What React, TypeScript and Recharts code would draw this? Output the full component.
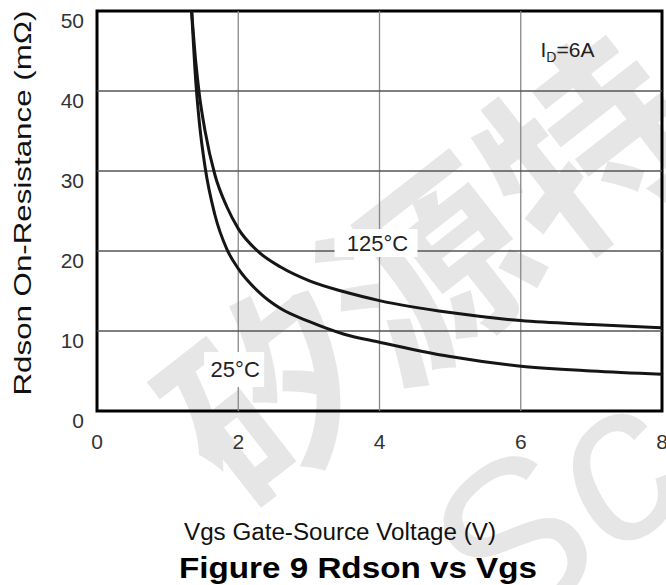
import React from "react";
import {
  LineChart,
  Line,
  XAxis,
  YAxis,
  ReferenceLine,
  ReferenceArea,
  ReferenceDot,
} from "recharts";

// Vgs (V) sample points shared by both curves
const vgs = [1.34, 1.4, 1.45, 1.53, 1.67, 1.84, 2.0, 2.3, 2.6, 3.0, 3.5, 4.0, 5.0, 6.0, 7.0, 8.0];
// Rdson (mOhm)
const rdson25 = [50, 41, 36, 30.5, 24.5, 20.2, 17.8, 14.8, 12.8, 11.2, 9.6, 8.6, 6.8, 5.6, 5.0, 4.6];
const rdson125 = [50, 43.5, 39.5, 35, 29.5, 25.5, 22.8, 19.8, 18.0, 16.3, 14.9, 13.8, 12.3, 11.3, 10.8, 10.4];

const xTicks = [0, 2, 4, 6, 8];
const yTicks = [0, 10, 20, 30, 40, 50];
const xGrid = [2, 4, 6];
const yGrid = [10, 20, 30, 40];

const data = vgs.map((v, i) => ({ vgs: v, t25: rdson25[i], t125: rdson125[i] }));

const FONT = "'Liberation Sans', Arial, sans-serif";

const XTick = (props: any) => {
  const { x, y, payload } = props;
  return (
    <text x={x} y={y + 38} textAnchor="middle" fontSize={21} fill="#333" fontFamily={FONT}>
      {payload.value}
    </text>
  );
};

const YTick = (props: any) => {
  const { x, y, payload } = props;
  return (
    <text x={x - 13} y={y + 16.5} textAnchor="end" fontSize={21} fill="#333" fontFamily={FONT}>
      {payload.value}
    </text>
  );
};

const label125 = (props: any) => {
  const { cx, cy } = props;
  return (
    <g>
      <rect x={cx - 45} y={cy - 22} width={83} height={28} fill="#fff" />
      <text x={cx - 2} y={cy} textAnchor="middle" fontSize={22} fill="#222" fontFamily={FONT}>
        125°C
      </text>
    </g>
  );
};

const label25 = (props: any) => {
  const { cx, cy } = props;
  return (
    <g>
      <rect x={cx - 27} y={cy - 19} width={60} height={35} fill="#fff" />
      <text x={cx + 4} y={cy + 6} textAnchor="middle" fontSize={22} fill="#222" fontFamily={FONT}>
        25°C
      </text>
    </g>
  );
};

const labelId = (props: any) => {
  const { cx, cy } = props;
  return (
    <text x={cx} y={cy} fontSize={21} fill="#222" fontFamily={FONT}>
      I
      <tspan fontSize={14} dy={5}>D</tspan>
      <tspan dy={-5}>=6A</tspan>
    </text>
  );
};

export default function App() {
  return (
    <div style={{ position: "absolute", left: 0, top: 0, width: 666, height: 585, background: "#fff" }}>
      <svg width={666} height={585} style={{ position: "absolute", left: 0, top: 0 }}>
        <g fill="#e6e6e6" fontFamily="'Noto Sans CJK SC', sans-serif" fontSize={200} fontWeight="bold">
          <text transform="translate(475 330) rotate(-38)" textAnchor="middle">
            矽源特
          </text>
        </g>
        <text
          transform="translate(600 570) rotate(-38)"
          textAnchor="middle"
          fill="#e6e6e6"
          fontFamily={FONT}
          fontSize={220}
          fontStyle="italic"
        >
          Sc
        </text>
      </svg>
      <div style={{ position: "absolute", left: 0, top: 0 }}>
        <LineChart width={666} height={585} data={data} margin={{ top: 11, right: 4, bottom: 134, left: 0 }}>
          <XAxis
            dataKey="vgs"
            type="number"
            domain={[0, 8]}
            ticks={xTicks}
            axisLine={false}
            tickLine={false}
            tickSize={0}
            tickMargin={0}
            height={40}
            tick={<XTick />}
            interval={0}
          />
          <YAxis
            type="number"
            domain={[0, 50]}
            ticks={yTicks}
            axisLine={false}
            tickLine={false}
            tickSize={0}
            tickMargin={0}
            width={97}
            tick={<YTick />}
            interval={0}
          />
          {xGrid.map((v) => (
            <ReferenceLine key={"x" + v} x={v} stroke="#888" strokeWidth={1.3} />
          ))}
          {yGrid.map((v) => (
            <ReferenceLine key={"y" + v} y={v} stroke="#555" strokeWidth={1.6} />
          ))}
          <ReferenceDot x={4.0} y={20} r={0} shape={label125} />
          <ReferenceDot x={1.9} y={5} r={0} shape={label25} />
          <ReferenceDot x={6.28} y={44.25} r={0} shape={labelId} />
          <ReferenceArea x1={0} x2={8} y1={0} y2={50} fill="none" stroke="#000" strokeWidth={3} />
          <Line dataKey="t25" type="monotone" stroke="#151515" strokeWidth={3} dot={false} isAnimationActive={false} />
          <Line dataKey="t125" type="monotone" stroke="#151515" strokeWidth={3} dot={false} isAnimationActive={false} />
        </LineChart>
      </div>
      <svg width={666} height={585} style={{ position: "absolute", left: 0, top: 0, pointerEvents: "none" }}>
        <text
          transform="translate(31 203) rotate(-90)"
          textAnchor="middle"
          fontSize={24}
          fill="#111"
          fontFamily={FONT}
          textLength={385}
          lengthAdjust="spacingAndGlyphs"
        >
          Rdson On-Resistance (mΩ)
        </text>
        <text
          x={340}
          y={540}
          textAnchor="middle"
          fontSize={23}
          fill="#111"
          fontFamily={FONT}
          textLength={312}
          lengthAdjust="spacingAndGlyphs"
        >
          Vgs Gate-Source Voltage (V)
        </text>
        <text
          x={358}
          y={578}
          textAnchor="middle"
          fontSize={30}
          fontWeight="bold"
          fill="#000"
          fontFamily={FONT}
          textLength={358}
          lengthAdjust="spacingAndGlyphs"
        >
          Figure 9 Rdson vs Vgs
        </text>
      </svg>
    </div>
  );
}
